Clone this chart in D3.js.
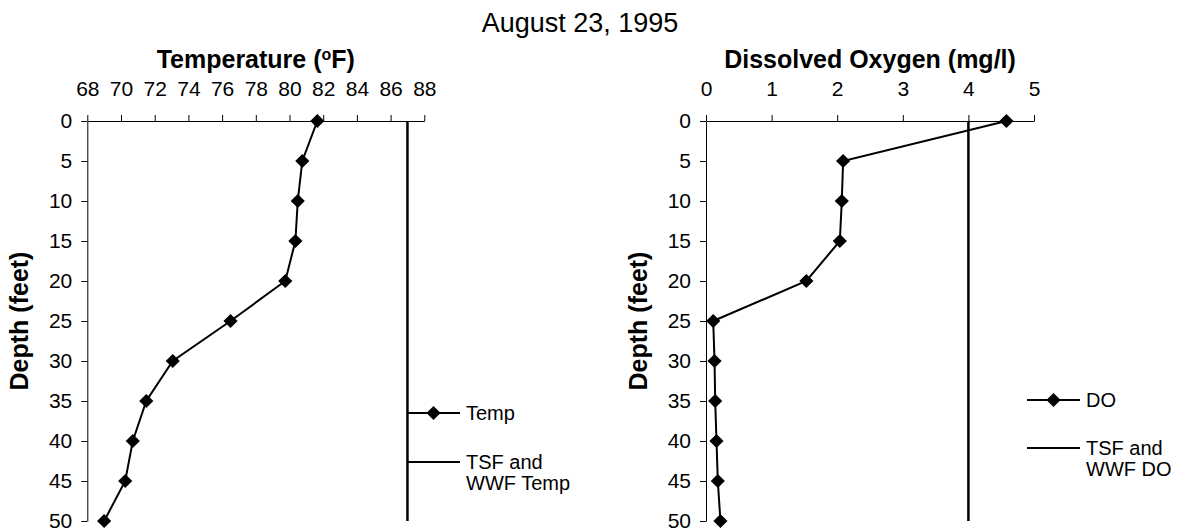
<!DOCTYPE html>
<html>
<head>
<meta charset="utf-8">
<script src="https://cdn.jsdelivr.net/npm/d3@7"></script>
<style>
  body { margin: 0; background: #fff; }
  svg { font-family: "Liberation Sans", Arial, sans-serif; }
  .tick text { font-size: 21px; fill: #000; }
  .domain, .tick line { stroke: #000; stroke-width: 1; }
</style>
</head>
<body>
<svg id="chart" width="1182" height="531"></svg>
<script>
// depth profile readings
const depths = [0, 5, 10, 15, 20, 25, 30, 35, 40, 45, 50];
const temps = [81.65, 80.76, 80.49, 80.35, 79.75, 76.5, 73.07, 71.5, 70.7, 70.25, 69.0];
const doVals = [4.58, 2.09, 2.07, 2.04, 1.53, 0.11, 0.13, 0.14, 0.16, 0.18, 0.22];
// TSF and WWF criteria
const tempStd = [87, 87];
const doStd = [4, 4];
const stdDepths = [0, 50];
const tempTicks = [68, 70, 72, 74, 76, 78, 80, 82, 84, 86, 88];
const doTicks = [0, 1, 2, 3, 4, 5];
const depthTicks = [0, 5, 10, 15, 20, 25, 30, 35, 40, 45, 50];

const svg = d3.select('#chart');

svg.append('text')
    .attr('x', 580)
    .attr('y', 32)
    .attr('text-anchor', 'middle')
    .style('font-size', '27px')
    .text('August 23, 1995');

const diamond = d3.symbol().type(d3.symbolDiamond2).size(128);

function drawProfile(cfg) {
    const x = d3.scaleLinear().domain(cfg.domain).range([cfg.left, cfg.right]);
    const y = d3.scaleLinear().domain([0, 50]).range([121, 521]);

    const g = svg.append('g');

    g.append('g')
        .attr('transform', 'translate(0,' + y(0) + ')')
        .call(d3.axisTop(x).tickValues(cfg.ticks).tickFormat(d3.format('d'))
            .tickSize(6).tickPadding(19).tickSizeOuter(0));

    g.append('g')
        .attr('transform', 'translate(' + x(cfg.domain[0]) + ',0)')
        .call(d3.axisLeft(y).tickValues(depthTicks).tickSize(6).tickPadding(9).tickSizeOuter(0));

    // axis titles
    const t = g.append('text')
        .attr('x', (cfg.left + cfg.right) / 2)
        .attr('y', 68)
        .attr('text-anchor', 'middle')
        .style('font-size', '25px')
        .style('font-weight', 'bold');
    cfg.title(t);

    g.append('text')
        .attr('transform', 'translate(' + (cfg.left - 59) + ',' + y(25) + ') rotate(-90)')
        .attr('text-anchor', 'middle')
        .style('font-size', '25px')
        .style('font-weight', 'bold')
        .text('Depth (feet)');

    // criterion line
    const stdLine = d3.line().x((d, i) => x(cfg.std[i])).y(d => y(d));
    g.append('path')
        .datum(stdDepths)
        .attr('fill', 'none')
        .attr('stroke', '#000')
        .attr('stroke-width', 2.5)
        .attr('d', stdLine);

    // measured profile
    const line = d3.line().x((d, i) => x(cfg.values[i])).y(d => y(d));
    g.append('path')
        .datum(depths)
        .attr('fill', 'none')
        .attr('stroke', '#000')
        .attr('stroke-width', 2)
        .attr('d', line);

    g.selectAll('.pt')
        .data(depths)
        .enter().append('path')
        .attr('class', 'pt')
        .attr('transform', (d, i) => 'translate(' + x(cfg.values[i]) + ',' + y(d) + ')')
        .attr('d', diamond);

    // legend
    const lg = g.append('g').attr('transform', 'translate(' + cfg.legend[0] + ',' + cfg.legend[1] + ')');
    lg.append('line').attr('x1', 0).attr('x2', 53).attr('y1', 0).attr('y2', 0)
        .attr('stroke', '#000').attr('stroke-width', 2);
    lg.append('path').attr('transform', 'translate(26.5,0)').attr('d', diamond);
    lg.append('text').attr('x', 59).attr('y', 7).style('font-size', '20px').text(cfg.names[0]);

    lg.append('line').attr('x1', 0).attr('x2', 53).attr('y1', cfg.legendGap).attr('y2', cfg.legendGap)
        .attr('stroke', '#000').attr('stroke-width', 2);
    lg.append('text').attr('x', 59).attr('y', cfg.legendGap + 7).style('font-size', '20px')
        .selectAll('tspan')
        .data(cfg.names[1])
        .enter().append('tspan')
        .attr('x', 59)
        .attr('dy', (d, i) => i === 0 ? 0 : 21)
        .text(d => d);
}

drawProfile({
    domain: [68, 88],
    ticks: tempTicks,
    left: 87.3,
    right: 424.3,
    values: temps,
    std: tempStd,
    title: t => {
        t.append('tspan').text('Temperature (');
        t.append('tspan').attr('baseline-shift', 'super').style('font-size', '16px').text('o');
        t.append('tspan').text('F)');
    },
    legend: [407, 413],
    legendGap: 49,
    names: ['Temp', ['TSF and', 'WWF Temp']]
});

drawProfile({
    domain: [0, 5],
    ticks: doTicks,
    left: 706,
    right: 1034,
    values: doVals,
    std: doStd,
    title: t => t.text('Dissolved Oxygen (mg/l)'),
    legend: [1027, 400],
    legendGap: 48,
    names: ['DO', ['TSF and', 'WWF DO']]
});
</script>
</body>
</html>
